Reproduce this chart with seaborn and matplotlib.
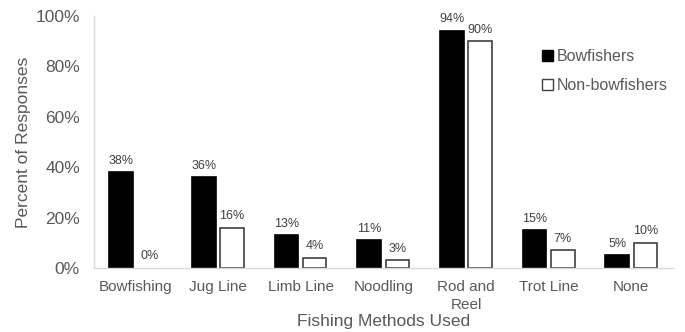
import matplotlib
matplotlib.use("Agg")
import matplotlib.pyplot as plt
import seaborn as sns
import pandas as pd
from matplotlib.ticker import PercentFormatter
from matplotlib.patches import Patch

methods = ["Bowfishing", "Jug Line", "Limb Line", "Noodling", "Rod and\nReel", "Trot Line", "None"]
bowfishers = [38, 36, 13, 11, 94, 15, 5]
non_bowfishers = [0, 16, 4, 3, 90, 7, 10]
groups = ["Bowfishers", "Non-bowfishers"]

df = pd.DataFrame({
    "method": methods * 2,
    "pct": bowfishers + non_bowfishers,
    "group": [groups[0]] * len(methods) + [groups[1]] * len(methods),
})

sns.set_theme(style="white")
plt.rcParams["font.family"] = ["Liberation Sans", "DejaVu Sans"]

text_c = "#595959"
fig = plt.figure(figsize=(6.85, 3.32), dpi=100)
ax = fig.add_axes([0.137, 0.193, 0.845, 0.759])

sns.barplot(data=df, x="method", y="pct", hue="group", hue_order=groups,
            palette=["black", "white"], width=0.68, gap=0.16,
            edgecolor="#404040", linewidth=1.2, ax=ax, legend=False)
# solid black bars without a visible outline; empty bars draw no outline
for p in ax.containers[0]:
    p.set_edgecolor("black")
for cont in ax.containers:
    for p, v in zip(cont, cont.datavalues):
        if v == 0:
            p.set_linewidth(0)

for cont in ax.containers:
    ax.bar_label(cont, labels=[f"{v:.0f}%" for v in cont.datavalues],
                 padding=4, fontsize=9, color="#404040")

ax.set_ylim(0, 100)
ax.set_xlim(-0.5, len(methods) - 0.5)
ax.yaxis.set_major_formatter(PercentFormatter(decimals=0))
ax.set_yticks(range(0, 101, 20))
ax.tick_params(axis="y", labelsize=12.5, colors=text_c, length=0, pad=10)
ax.tick_params(axis="x", labelsize=11, colors=text_c, length=0, pad=9)
for lbl in ax.get_xticklabels():
    lbl.set_linespacing(1.35)
ax.set_xlabel("Fishing Methods Used", fontsize=12.5, color=text_c, labelpad=1)
ax.set_ylabel("Percent of Responses", fontsize=12.5, color=text_c, labelpad=3)

for s in ["top", "right"]:
    ax.spines[s].set_visible(False)
for s in ["left", "bottom"]:
    ax.spines[s].set_color("#d9d9d9")
    ax.spines[s].set_linewidth(1)

handles = [Patch(facecolor="black", edgecolor="black"),
           Patch(facecolor="white", edgecolor="#404040", linewidth=1)]
leg = ax.legend(handles, groups, loc="upper left", bbox_to_anchor=(0.76, 0.9),
                frameon=False, fontsize=11.5, handlelength=0.7, handleheight=0.7,
                handletextpad=0.25, labelspacing=0.85, borderpad=0)
for t in leg.get_texts():
    t.set_color(text_c)

fig.savefig("out.png", dpi=100)
